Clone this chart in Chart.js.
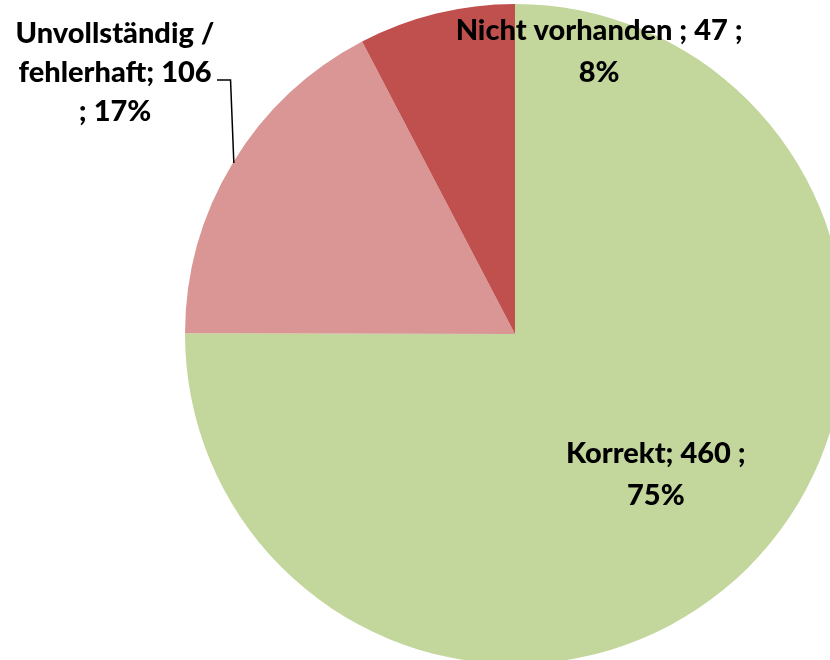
<!DOCTYPE html>
<html>
<head>
<meta charset="utf-8">
<script src="https://cdn.jsdelivr.net/npm/chart.js@4/dist/chart.umd.min.js"></script>
<style>
  html, body { margin: 0; padding: 0; background: #fff; }
  #wrap { width: 830px; height: 660px; position: relative; }
</style>
</head>
<body>
<div id="wrap"><canvas id="chart"></canvas></div>
<script>
// Daten
const categories = ['Korrekt', 'Unvollständig / fehlerhaft', 'Nicht vorhanden'];
const counts = [460, 106, 47];
const sliceColors = ['#C3D69B', '#D99694', '#C0504D'];

const total = counts.reduce((a, b) => a + b, 0);
const pct = (v) => Math.round(v / total * 100);

const labelFont = '900 29px Lato';

// Beschriftungen wie im Original (manuell platziert)
const labelPlugin = {
  id: 'sliceLabels',
  afterDraw(chart) {
    const ctx = chart.ctx;
    const arcs = chart.getDatasetMeta(0).data;
    const c = arcs[0];
    const cx = c.x, cy = c.y, r = c.outerRadius;

    ctx.save();
    ctx.font = labelFont;
    ctx.fillStyle = '#000';
    ctx.textAlign = 'center';
    ctx.textBaseline = 'middle';

    const drawLines = (lines, x, y, lh) => {
      lines.forEach((t, i) => ctx.fillText(t, x, y + i * lh));
    };

    // Korrekt: innerhalb, auf der Winkelhalbierenden
    const a0 = (c.startAngle + c.endAngle) / 2;
    drawLines([`${categories[0]}; ${counts[0]} ;`, `${pct(counts[0])}%`],
      cx + Math.cos(a0) * r * 0.6 + 1, cy + Math.sin(a0) * r * 0.6 - 21, 42);

    // Unvollständig: außerhalb mit Führungslinie
    const lx = cx - r * 1.212, ly = cy - r * 0.91;
    drawLines(['Unvollständig /', `fehlerhaft; ${counts[1]}`, `; ${pct(counts[1])}%`], lx, ly, 39);
    ctx.strokeStyle = '#000';
    ctx.lineWidth = 1.5;
    ctx.beginPath();
    ctx.moveTo(cx - r * 0.903, cy - r * 0.77);
    ctx.lineTo(cx - r * 0.862, cy - r * 0.77);
    ctx.lineTo(cx - r * 0.852, cy - r * 0.518);
    ctx.stroke();

    // Nicht vorhanden: oben
    drawLines([`${categories[2]} ; ${counts[2]} ;`, `${pct(counts[2])}%`],
      cx + r * 0.255, cy - r * 0.92, 42);
    ctx.restore();
  }
};

new Chart(document.getElementById('chart'), {
  type: 'pie',
  data: {
    labels: categories,
    datasets: [{
      data: counts,
      backgroundColor: sliceColors,
      borderWidth: 0
    }]
  },
  options: {
    responsive: true,
    maintainAspectRatio: false,
    animation: false,
    radius: 330,
    layout: { padding: { left: 200, right: 0, top: 8, bottom: 0 } },
    plugins: {
      legend: { display: false },
      tooltip: { enabled: false }
    }
  },
  plugins: [labelPlugin]
});
</script>
</body>
</html>
